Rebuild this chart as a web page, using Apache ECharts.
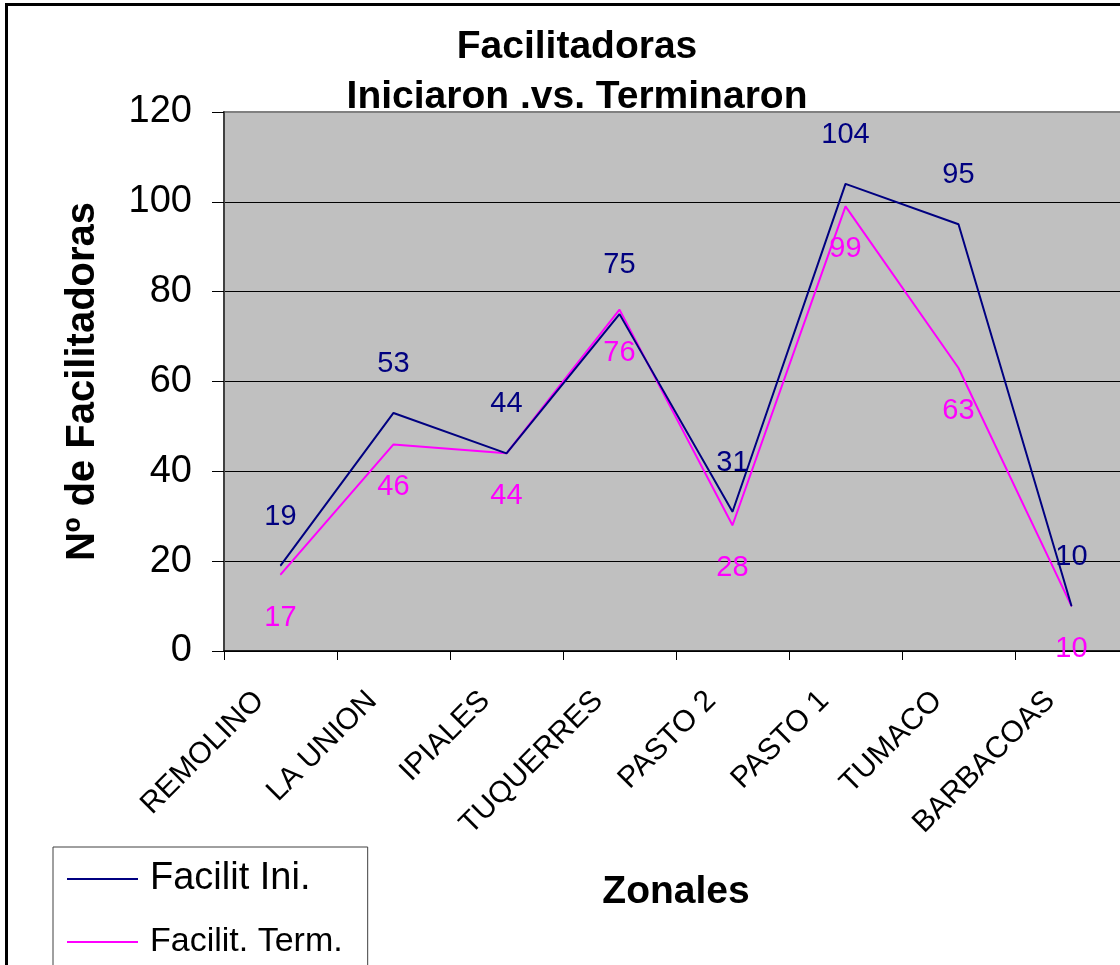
<!DOCTYPE html>
<html>
<head>
<meta charset="utf-8">
<script src="https://cdn.jsdelivr.net/npm/echarts@6/dist/echarts.min.js"></script>
<style>
html,body{margin:0;padding:0;background:#fff;overflow:hidden;width:1120px;height:965px;}
#chart{width:1128px;height:965px;}
</style>
</head>
<body>
<div id="chart"></div>
<script>
const categories = ['REMOLINO','LA UNION','IPIALES','TUQUERRES','PASTO 2','PASTO 1','TUMACO','BARBACOAS'];
const facilitIni = [19, 53, 44, 75, 31, 104, 95, 10];
const facilitTerm = [17, 46, 44, 76, 28, 99, 63, 10];
const seriesNames = ['Facilit Ini.', 'Facilit. Term.'];

const FONT = '"Liberation Sans", Arial, sans-serif';
const chart = echarts.init(document.getElementById('chart'), null, {renderer:'canvas'});
chart.setOption({
  animation: false,
  backgroundColor: '#ffffff',
  textStyle: {fontFamily: FONT},
  title: {
    text: 'Facilitadoras\nIniciaron .vs. Terminaron',
    left: 572, top: 17, textAlign: 'center',
    textStyle: {fontFamily: FONT, fontSize: 39, fontWeight: 'bold', color: '#000', lineHeight: 50}
  },
  graphic: [{
    type: 'rect', silent: true, z: 100,
    shape: {x: 6.5, y: 4.5, width: 1300, height: 1200},
    style: {fill: 'none', stroke: '#000', lineWidth: 3}
  }],
  legend: {
    orient: 'vertical', left: 53, top: 847, height: 200,
    padding: [13, 25, 20, 14],
    itemGap: 27, itemWidth: 71, itemHeight: 2,
    icon: 'rect',
    borderColor: '#404040', borderWidth: 1,
    backgroundColor: '#fff',
    data: seriesNames,
    formatter: function(n){ return n === seriesNames[0] ? '{a|' + n + '}' : '{b|' + n + '}'; },
    textStyle: {
      fontFamily: FONT, color: '#000', padding: [0,0,0,7],
      rich: {
        a: {fontFamily: FONT, fontSize: 38, lineHeight: 40, color: '#000'},
        b: {fontFamily: FONT, fontSize: 34, lineHeight: 40, color: '#000'}
      }
    }
  },
  grid: {
    left: 224, top: 112, right: 0, bottom: 314,
    show: true, backgroundColor: '#c0c0c0', borderColor: '#808080', borderWidth: 2
  },
  xAxis: {
    type: 'category', data: categories, boundaryGap: true,
    name: 'Zonales', nameLocation: 'middle', nameGap: 222,
    nameTextStyle: {fontFamily: FONT, fontSize: 39, fontWeight: 'bold', color: '#000'},
    axisLine: {lineStyle: {color: '#000', width: 1.5}},
    axisTick: {show: true, length: 9, lineStyle: {color: '#000'}},
    axisLabel: {rotate: 45, interval: 0, margin: 24, padding: [0, 30, 0, 0],
      fontFamily: FONT, fontSize: 30, color: '#000'},
    splitLine: {show: false}
  },
  yAxis: {
    type: 'value', min: 0, max: 120, interval: 20,
    name: 'Nº de Facilitadoras', nameLocation: 'middle', nameGap: 121,
    nameTextStyle: {fontFamily: FONT, fontSize: 40, fontWeight: 'bold', color: '#000'},
    axisLine: {show: true, lineStyle: {color: '#404040', width: 2}},
    axisTick: {show: true, length: 12, lineStyle: {color: '#000'}},
    axisLabel: {margin: 32, fontFamily: FONT, fontSize: 38, color: '#000'},
    splitLine: {show: true, showMaxLine: false, lineStyle: {color: '#000', width: 1}}
  },
  series: [
    {
      name: seriesNames[0], type: 'line', data: facilitIni,
      showSymbol: true, symbol: 'circle', symbolSize: 1,
      itemStyle: {color: '#000080'},
      lineStyle: {color: '#000080', width: 2},
      label: {show: true, position: 'top', distance: 34,
        fontFamily: FONT, fontSize: 29, color: '#000080'},
      z: 3
    },
    {
      name: seriesNames[1], type: 'line', data: facilitTerm,
      showSymbol: true, symbol: 'circle', symbolSize: 1,
      itemStyle: {color: '#ff00ff'},
      lineStyle: {color: '#ff00ff', width: 2},
      label: {show: true, position: 'bottom', distance: 28,
        fontFamily: FONT, fontSize: 29, color: '#ff00ff'},
      z: 2
    }
  ]
});
</script>
</body>
</html>
